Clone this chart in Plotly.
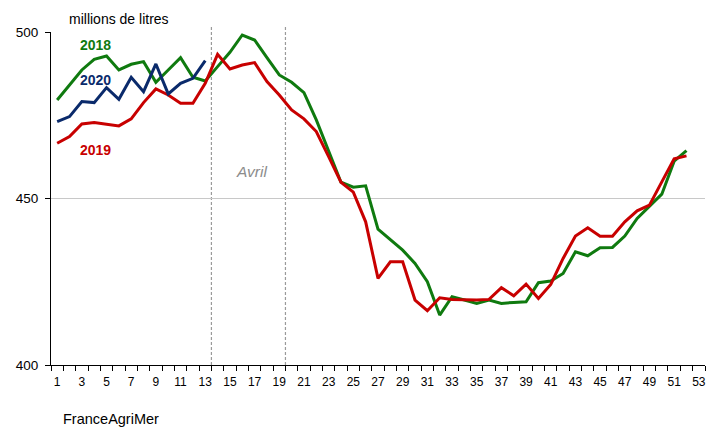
import plotly.graph_objects as go

weeks = list(range(1, 54))

y2018 = [479.6, 484.1, 488.6, 491.8, 492.8, 488.6, 490.3, 491.1, 484.9, 488.6,
         492.3, 486.4, 485.3, 489.6, 493.9, 499.1, 497.6, 492.3, 487.1, 484.9,
         481.8, 473.6, 464.1, 454.9, 453.4, 453.8, 440.8, 437.5, 434.5, 430.5,
         425.0, 415.0, 420.5, 419.5, 418.5, 419.5, 418.5, 418.8, 419.0, 424.7,
         425.2, 427.5, 434.0, 432.8, 435.2, 435.3, 438.7, 444.0, 447.6, 451.3,
         461.2, 464.4]

y2019 = [466.6, 468.6, 472.4, 472.8, 472.3, 471.8, 473.9, 478.8, 482.9, 481.1,
         478.6, 478.6, 484.6, 493.3, 488.9, 490.1, 490.8, 485.1, 481.1, 476.6,
         473.9, 470.1, 462.6, 454.9, 451.9, 443.0, 426.0, 431.0, 431.0, 419.5,
         416.3, 420.2, 419.7, 419.5, 419.5, 419.7, 423.2, 420.8, 424.3, 420.0,
         424.2, 432.0, 438.7, 441.2, 438.7, 438.7, 443.0, 446.3, 448.0, 455.0,
         461.9, 462.8]

y2020 = [473.1, 474.6, 479.1, 478.8, 483.3, 479.8, 486.4, 482.1, 490.4, 481.4,
         484.6, 486.1, 491.4]

x_ticklabels = [str(w) for w in range(1, 54, 2)]
y_ticks = [400, 450, 500]
april_bounds = [13.5, 19.5]

GREEN = "#0f7a0f"
RED = "#c80000"
NAVY = "#0a2a6b"
FONT = "Liberation Sans, Arial, sans-serif"

fig = go.Figure()
fig.add_trace(go.Scatter(x=weeks[:len(y2018)], y=y2018, mode="lines",
                         line=dict(color=GREEN, width=3), name="2018"))
fig.add_trace(go.Scatter(x=weeks[:len(y2019)], y=y2019, mode="lines",
                         line=dict(color=RED, width=3), name="2019"))
fig.add_trace(go.Scatter(x=weeks[:len(y2020)], y=y2020, mode="lines",
                         line=dict(color=NAVY, width=3), name="2020"))

for xb in april_bounds:
    fig.add_shape(type="line", xref="x", yref="paper", x0=xb, x1=xb, y0=0, y1=1.018,
                  line=dict(color="#9a9a9a", width=1.2, dash="3px,2px"), layer="below")

fig.add_annotation(x=16.75, y=458.0, xref="x", yref="y",
                   text="<i>Avril</i>", showarrow=False,
                   font=dict(family=FONT, size=15.5, color="#8c8c8c"))

L, R, T, B = 51.4, 704.9, 32, 365
labels = [("2018", GREEN, 45), ("2020", NAVY, 80), ("2019", RED, 150)]
for txt, col, ypx in labels:
    fig.add_annotation(x=(78 - L) / (R - L), y=1 - (ypx - T) / (B - T),
                       xref="paper", yref="paper", xanchor="left", yanchor="middle",
                       text="<b>%s</b>" % txt, showarrow=False,
                       font=dict(family=FONT, size=14, color=col))

fig.add_annotation(x=(67 - L) / (R - L), y=1 + (T - 19) / (B - T),
                   xref="paper", yref="paper", xanchor="left", yanchor="middle",
                   text="millions de litres", showarrow=False,
                   font=dict(family=FONT, size=14, color="black"))

fig.add_annotation(x=(61 - L) / (R - L), y=-(419 - B) / (B - T),
                   xref="paper", yref="paper", xanchor="left", yanchor="middle",
                   text="FranceAgriMer", showarrow=False,
                   font=dict(family=FONT, size=14.5, color="black"))

fig.update_layout(
    width=718, height=427,
    margin=dict(l=51, r=13, t=32, b=62),
    plot_bgcolor="white", paper_bgcolor="white",
    showlegend=False,
    font=dict(family=FONT, color="black"),
)
fig.update_xaxes(
    range=[0.5, 53.5],
    tickmode="array", tickvals=list(range(1, 54, 2)), ticktext=x_ticklabels,
    ticks="outside", ticklen=6, tickcolor="rgba(0,0,0,0)",
    tickfont=dict(family=FONT, size=12, color="black"),
    showgrid=False, zeroline=False,
    showline=True, linecolor="black", linewidth=1,
    minor=dict(tickmode="array", tickvals=[0.5 + i for i in range(54)],
               ticks="outside", ticklen=5, tickcolor="black", tickwidth=1, showgrid=False),
)
fig.update_yaxes(
    range=[400, 500],
    tickmode="array", tickvals=y_ticks, ticktext=[str(v) for v in y_ticks],
    ticks="outside", ticklen=5, tickcolor="black",
    tickfont=dict(family=FONT, size=13.5, color="black"),
    showgrid=True, gridcolor="#c8c8c8", gridwidth=1,
    zeroline=False, showline=True, linecolor="black", linewidth=1,
    ticklabelstandoff=4,
)

fig.write_html("out.html", config={"displayModeBar": False})
with open("out.html", "r", encoding="utf-8") as f:
    html = f.read()
html = html.replace("<head>", "<head><style>html,body{margin:0;padding:0;overflow:hidden;}</style>", 1)
with open("out.html", "w", encoding="utf-8") as f:
    f.write(html)
